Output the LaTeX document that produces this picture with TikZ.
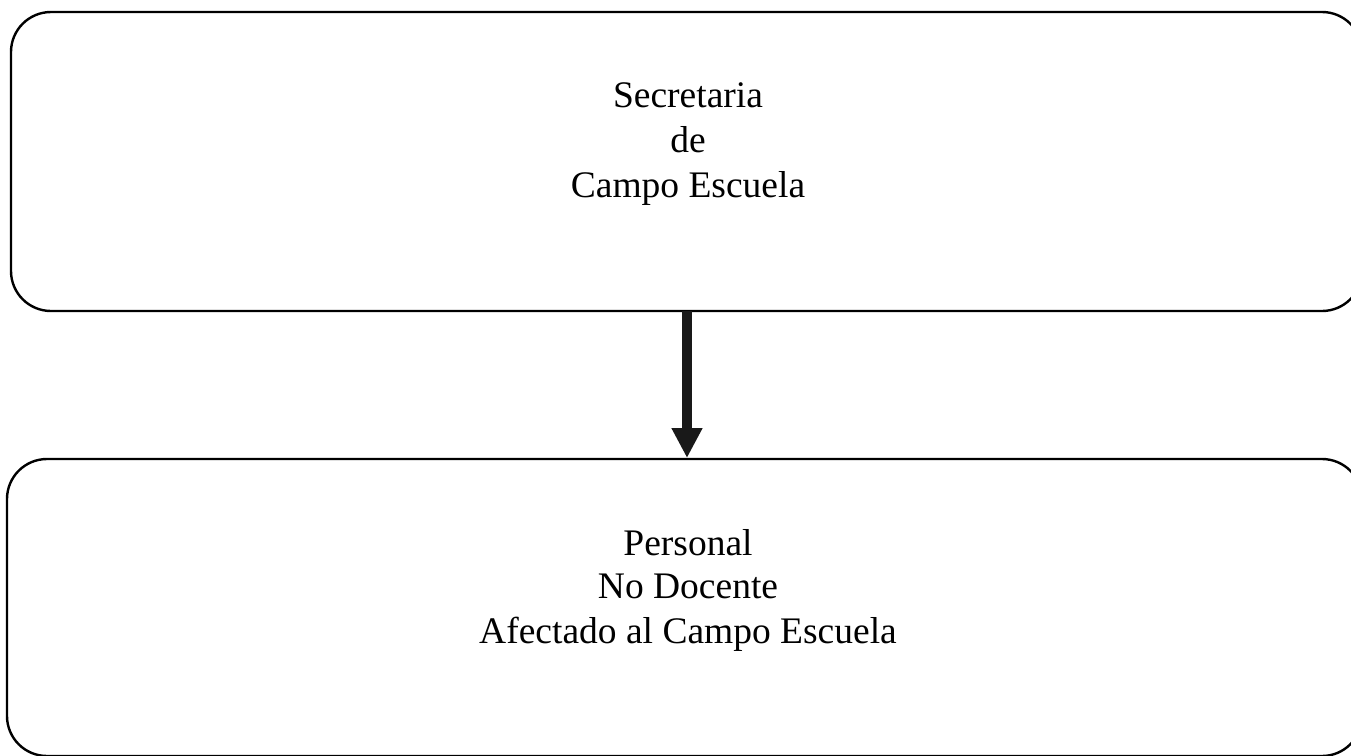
\documentclass[tikz,border=0pt]{standalone}
\usepackage{fontspec}
\setmainfont{Liberation Serif}
\usetikzlibrary{arrows.meta}
\begin{document}
\begin{tikzpicture}[x=1pt,y=-1pt,
  box/.style={draw=black,line width=2.4pt,rounded corners=40pt,inner sep=0pt},
  txt/.style={font=\fontsize{37.5}{45}\selectfont,anchor=base,inner sep=0pt,text=black},
  conn/.style={line width=10pt,draw=black!90,-{Triangle[width=29pt,length=30pt]}}]
\useasboundingbox[fill=white] (0,0) rectangle (1351,755);
\node[box,minimum width=1351pt,minimum height=299pt] (top) at (686.5,161.5) {};
\node[box,minimum width=1355pt,minimum height=297pt] (bot) at (684.5,607.5) {};
\node[txt] (t1) at (688,107) {Secretaria};
\node[txt] (t2) at (688,152) {de};
\node[txt] (t3) at (688,197) {Campo Escuela};
\node[txt] (b1) at (688,555) {Personal};
\node[txt] (b2) at (688,598) {No Docente};
\node[txt] (b3) at (688,643) {Afectado al Campo Escuela};
\coordinate (as) at (687,311);
\coordinate (ae) at (687,458);
\draw[conn] (as) -- (ae);
\end{tikzpicture}
\end{document}
